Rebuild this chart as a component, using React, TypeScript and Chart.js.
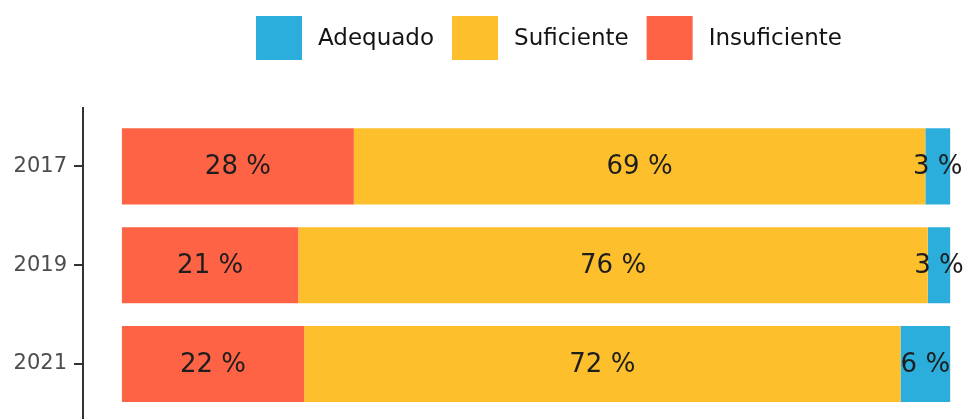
import React, { useEffect, useRef } from "react";
import { Chart, registerables } from "chart.js";

Chart.register(...registerables);

const years = ["2017", "2019", "2021"];
const insuficiente = [28, 21.3, 22];
const suficiente = [69, 76, 72];
const adequado = [3, 2.7, 6];
const seriesNames = ["Insuficiente", "Suficiente", "Adequado"];
const seriesColors = ["#FE6345", "#FEBF2D", "#2CAEDD"];

const FONT = "'DejaVu Sans', Arial, sans-serif";

const barLabelPlugin = {
  id: "barLabels",
  afterDatasetsDraw(chart: any) {
    const ctx = chart.ctx;
    ctx.save();
    ctx.font = `26px ${FONT}`;
    ctx.fillStyle = "#1e1e1e";
    ctx.textAlign = "center";
    ctx.textBaseline = "middle";
    chart.data.datasets.forEach((ds: any, di: number) => {
      const meta = chart.getDatasetMeta(di);
      meta.data.forEach((el: any, i: number) => {
        const v = ds.data[i];
        const cx = (el.x + el.base) / 2;
        ctx.fillText(`${Math.round(v)} %`, cx, el.y + 1);
      });
    });
    ctx.restore();
  },
};

const legendPlugin = {
  id: "customLegend",
  afterDraw(chart: any) {
    const ctx = chart.ctx;
    const boxW = 46;
    const boxH = 44;
    const gapText = 16;
    const gapItem = 18;
    const centerX = 549;
    const centerY = 38;
    ctx.save();
    ctx.font = `23px ${FONT}`;
    const items = chart.data.datasets
      .map((ds: any) => ({ label: ds.label, color: ds.backgroundColor }))
      .reverse();
    const widths = items.map((it: any) => ctx.measureText(it.label).width);
    let total = 0;
    widths.forEach((w: number, i: number) => {
      total += boxW + gapText + w + (i < widths.length - 1 ? gapItem : 0);
    });
    let x = centerX - total / 2;
    items.forEach((it: any, i: number) => {
      ctx.fillStyle = it.color;
      ctx.fillRect(x, centerY - boxH / 2, boxW, boxH);
      x += boxW + gapText;
      ctx.fillStyle = "#141414";
      ctx.textAlign = "left";
      ctx.textBaseline = "middle";
      ctx.fillText(it.label, x, centerY + 1);
      x += widths[i] + gapItem;
    });
    ctx.restore();
  },
};

const axisLinePlugin = {
  id: "axisLine",
  afterDraw(chart: any) {
    const ctx = chart.ctx;
    const area = chart.chartArea;
    const band = (area.bottom - area.top) / years.length;
    ctx.save();
    ctx.strokeStyle = "#333333";
    ctx.lineWidth = 2;
    ctx.beginPath();
    ctx.moveTo(area.left, area.top - band * 0.1);
    ctx.lineTo(area.left, chart.height);
    ctx.stroke();
    ctx.restore();
  },
};

export default function App() {
  const ref = useRef<HTMLCanvasElement | null>(null);

  useEffect(() => {
    if (!ref.current) return;
    const values = [insuficiente, suficiente, adequado];
    const chart = new Chart(ref.current, {
      type: "bar",
      data: {
        labels: years,
        datasets: seriesNames.map((name, i) => ({
          label: name,
          data: values[i],
          backgroundColor: seriesColors[i],
          borderWidth: 0,
          categoryPercentage: 1,
          barPercentage: 0.77,
        })),
      },
      options: {
        indexAxis: "y",
        animation: false,
        responsive: false,
        maintainAspectRatio: false,
        layout: { padding: { top: 117, bottom: 0, left: 0, right: 0 } },
        plugins: {
          legend: { display: false },
          tooltip: { enabled: false },
          title: { display: false },
        },
        scales: {
          x: {
            type: "linear",
            stacked: true,
            display: false,
            min: -4.7,
            max: 103.6,
          },
          y: {
            type: "category",
            stacked: true,
            border: { display: false },
            grid: {
              display: true,
              offset: false,
              drawOnChartArea: false,
              drawTicks: true,
              tickLength: 9,
              color: "#333333",
              lineWidth: 2,
            },
            ticks: {
              color: "#4d4d4d",
              padding: 7,
              font: { family: FONT, size: 21 },
            },
            afterFit: (scale: any) => {
              scale.width = 83;
            },
          },
        },
      },
      plugins: [barLabelPlugin, legendPlugin, axisLinePlugin],
    } as any);
    return () => chart.destroy();
  }, []);

  return (
    <div
      style={{
        position: "fixed",
        left: 0,
        top: 0,
        width: 980,
        height: 419,
        overflow: "hidden",
        background: "#ffffff",
      }}
    >
      <canvas ref={ref} width={980} height={433} style={{ display: "block" }} />
    </div>
  );
}
